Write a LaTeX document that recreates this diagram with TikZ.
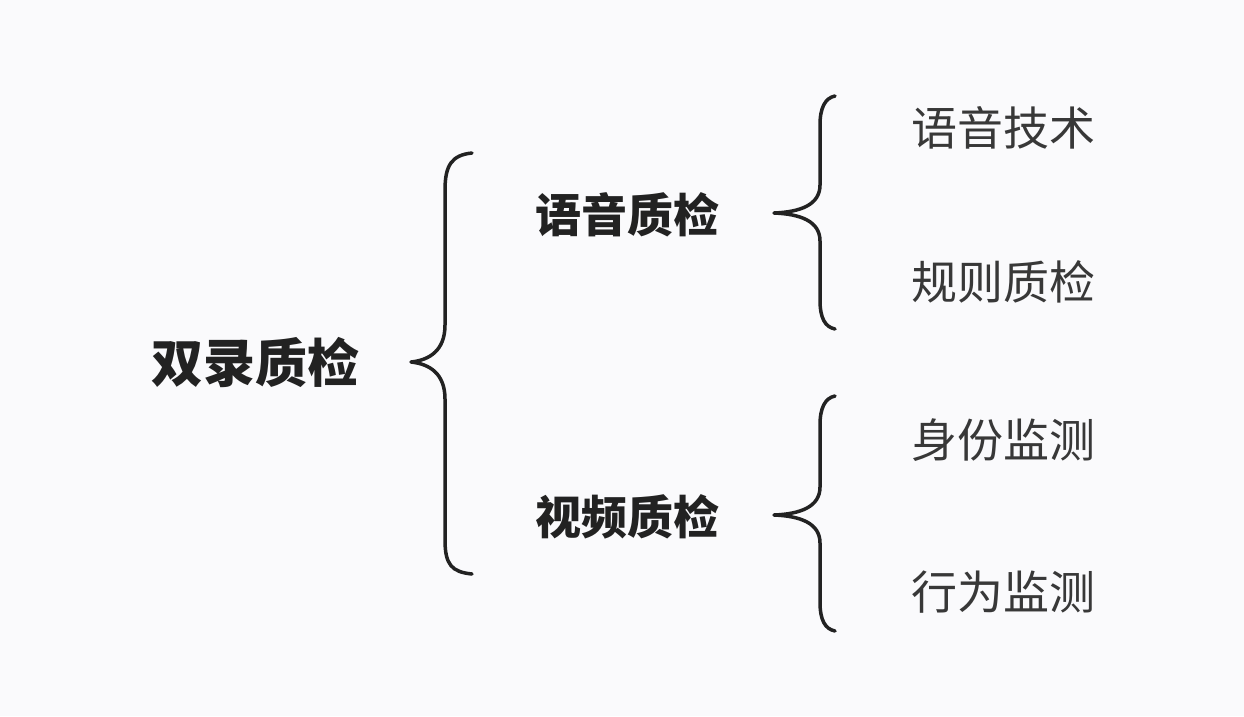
\documentclass[tikz,border=0pt]{standalone}
\usepackage{fontspec}
\newfontfamily\cjk{Noto Sans CJK SC}
\definecolor{bg}{HTML}{FAFAFC}
\definecolor{ink}{HTML}{222222}
\begin{document}
\begin{tikzpicture}[x=1pt,y=-1pt,
  brace/.style={draw=ink,line width=3.5pt,line cap=round,line join=round},
  big/.style={font=\cjk\bfseries\fontsize{52}{52}\selectfont,text=ink},
  mid/.style={font=\cjk\bfseries\fontsize{46}{46}\selectfont,text=ink},
  leaf/.style={font=\cjk\fontsize{46}{46}\selectfont,text=ink!90}]
\fill[bg] (0,0) rectangle (1244,716);
\useasboundingbox (0,0) rectangle (1244,716);
\node[big] (root) at (255,362) {双录质检};
\node[mid] (a) at (627,215) {语音质检};
\node[mid] (b) at (627,517) {视频质检};
\node[leaf] (a1) at (1003,128) {语音技术};
\node[leaf] (a2) at (1003,282) {规则质检};
\node[leaf] (b1) at (1003,440) {身份监测};
\node[leaf] (b2) at (1003,592) {行为监测};
\draw[brace] (472,153) .. controls (452,155) and (445,165) .. (445,190) -- (445,325)
  .. controls (445,350) and (430,360) .. (411,362)
  .. controls (430,364) and (445,374) .. (445,399) -- (445,540)
  .. controls (445,565) and (452,572) .. (472,574);
\draw[brace] (835,96) .. controls (825,98) and (820,108) .. (820,125) -- (820,185)
  .. controls (820,205) and (800,212) .. (774,213)
  .. controls (800,214) and (820,221) .. (820,241) -- (820,300)
  .. controls (820,318) and (825,327) .. (835,329);
\draw[brace] (835,396) .. controls (825,398) and (820,408) .. (820,425) -- (820,487)
  .. controls (820,507) and (800,514) .. (774,515)
  .. controls (800,516) and (820,523) .. (820,543) -- (820,602)
  .. controls (820,620) and (825,629) .. (835,631);
\end{tikzpicture}
\end{document}
